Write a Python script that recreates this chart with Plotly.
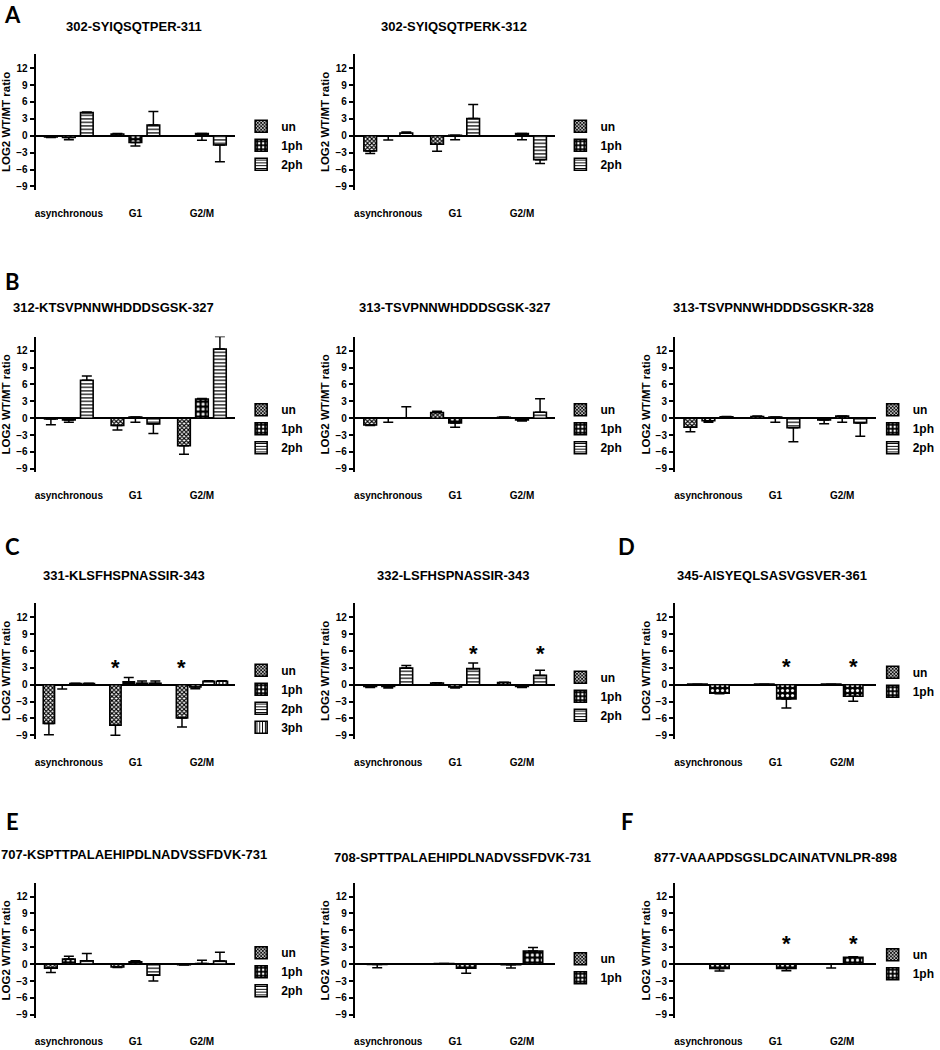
import plotly.graph_objects as go

W, H = 940, 1050
groups = ["asynchronous", "G1", "G2/M"]

# ---------------- data: bar values and signed error extents (+ up / - down) ----------------
a1_title = "302-SYIQSQTPER-311"
a1_un, a1_un_err = [-0.2, 0.3, -0.1], [-0.1, 0.1, 0.0]
a1_1ph, a1_1ph_err = [-0.3, -1.2, 0.4], [-0.4, -0.6, -1.2]
a1_2ph, a1_2ph_err = [4.1, 1.9, -1.65], [0.1, 2.4, -2.95]

a2_title = "302-SYIQSQTPERK-312"
a2_un, a2_un_err = [-2.7, -1.5, 0.0], [-0.45, -1.25, 0.0]
a2_1ph, a2_1ph_err = [-0.05, 0.1, 0.4], [-0.7, -0.8, -1.1]
a2_2ph, a2_2ph_err = [0.5, 3.05, -4.25], [0.15, 2.5, -0.7]

b1_title = "312-KTSVPNNWHDDDSGSK-327"
b1_un, b1_un_err = [-0.15, -1.3, -4.9], [-1.0, -0.8, -1.5]
b1_1ph, b1_1ph_err = [-0.3, 0.2, 3.4], [-0.4, -0.9, 0.1]
b1_2ph, b1_2ph_err = [6.75, -1.0, 12.3], [0.75, -1.7, 2.2]
b1_stars = [("G2/M", "2ph", 16.0)]

b2_title = "313-TSVPNNWHDDDSGSK-327"
b2_un, b2_un_err = [-1.2, 1.0, 0.15], [-0.1, 0.25, 0.05]
b2_1ph, b2_1ph_err = [0.05, -0.85, -0.3], [-0.75, -0.75, -0.2]
b2_2ph, b2_2ph_err = [0.05, 0.0, 1.05], [2.0, 0.0, 2.4]

b3_title = "313-TSVPNNWHDDDSGSKR-328"
b3_un, b3_un_err = [-1.6, 0.3, -0.3], [-0.8, 0.1, -0.7]
b3_1ph, b3_1ph_err = [-0.45, 0.2, 0.4], [-0.25, -0.9, -1.1]
b3_2ph, b3_2ph_err = [0.25, -1.7, -0.85], [0.05, -2.5, -2.35]

c1_title = "331-KLSFHSPNASSIR-343"
c1_un, c1_un_err = [-6.9, -7.2, -5.9], [-2.0, -1.8, -1.6]
c1_1ph, c1_1ph_err = [-0.05, 0.5, -0.4], [-0.7, 0.8, -0.3]
c1_2ph, c1_2ph_err = [0.2, 0.25, 0.6], [0.05, 0.4, 0.1]
c1_3ph, c1_3ph_err = [0.2, 0.25, 0.6], [0.05, 0.4, 0.1]
c1_stars = [("G1", "un", 3.8), ("G2/M", "un", 3.8)]

c2_title = "332-LSFHSPNASSIR-343"
c2_un, c2_un_err = [-0.3, 0.3, 0.4], [-0.2, 0.05, 0.05]
c2_1ph, c2_1ph_err = [-0.3, -0.4, -0.3], [-0.3, -0.2, -0.2]
c2_2ph, c2_2ph_err = [2.95, 2.85, 1.65], [0.45, 1.0, 0.9]
c2_stars = [("G1", "2ph", 6.2), ("G2/M", "2ph", 6.2)]

d_title = "345-AISYEQLSASVGSVER-361"
d_un, d_un_err = [0.1, 0.1, 0.1], [0.0, 0.0, 0.0]
d_1ph, d_1ph_err = [-1.5, -2.55, -2.05], [-0.1, -1.6, -0.9]
d_stars = [("G1", "1ph", 4.0), ("G2/M", "1ph", 4.0)]

e1_title = "707-KSPTTPALAEHIPDLNADVSSFDVK-731"
e1_un, e1_un_err = [-0.7, -0.5, -0.1], [-0.8, -0.1, -0.05]
e1_1ph, e1_1ph_err = [0.9, 0.4, 0.1], [0.5, 0.2, 0.6]
e1_2ph, e1_2ph_err = [0.6, -1.95, 0.55], [1.3, -1.05, 1.55]

e2_title = "708-SPTTPALAEHIPDLNADVSSFDVK-731"
e2_un, e2_un_err = [-0.05, 0.1, -0.1], [-0.6, 0.0, -0.6]
e2_1ph, e2_1ph_err = [0.0, -0.7, 2.35], [0.0, -0.9, 0.6]

f_title = "877-VAAAPDSGSLDCAINATVNLPR-898"
f_un, f_un_err = [0.05, 0.05, 0.0], [0.0, 0.0, -0.7]
f_1ph, f_1ph_err = [-0.75, -0.75, 1.2], [-0.45, -0.4, 0.1]
f_stars = [("G1", "1ph", 4.3), ("G2/M", "1ph", 4.3)]

y_ticks = [-9, -6, -3, 0, 3, 6, 9, 12]
y_title = "LOG2 WT/MT ratio"

# ---------------- chart definitions (layout only) ----------------
charts = [
    dict(title=a1_title, col=1, row="A", tpos=(135, 27), lg=-10,
         series=[("un", a1_un, a1_un_err), ("1ph", a1_1ph, a1_1ph_err), ("2ph", a1_2ph, a1_2ph_err)], stars=[]),
    dict(title=a2_title, col=2, row="A", tpos=(458, 27), lg=-10,
         series=[("un", a2_un, a2_un_err), ("1ph", a2_1ph, a2_1ph_err), ("2ph", a2_2ph, a2_2ph_err)], stars=[]),
    dict(title=b1_title, col=1, row="B", tpos=(114, 308), lg=-9,
         series=[("un", b1_un, b1_un_err), ("1ph", b1_1ph, b1_1ph_err), ("2ph", b1_2ph, b1_2ph_err)], stars=b1_stars),
    dict(title=b2_title, col=2, row="B", tpos=(459, 308), lg=-9,
         series=[("un", b2_un, b2_un_err), ("1ph", b2_1ph, b2_1ph_err), ("2ph", b2_2ph, b2_2ph_err)], stars=[]),
    dict(title=b3_title, col=3, row="B", tpos=(782, 308), lg=-9,
         series=[("un", b3_un, b3_un_err), ("1ph", b3_1ph, b3_1ph_err), ("2ph", b3_2ph, b3_2ph_err)], stars=[]),
    dict(title=c1_title, col=1, row="C", tpos=(124, 577), lg=-15,
         series=[("un", c1_un, c1_un_err), ("1ph", c1_1ph, c1_1ph_err), ("2ph", c1_2ph, c1_2ph_err),
                 ("3ph", c1_3ph, c1_3ph_err)], stars=c1_stars),
    dict(title=c2_title, col=2, row="C", tpos=(457, 577), lg=-8,
         series=[("un", c2_un, c2_un_err), ("1ph", c2_1ph, c2_1ph_err), ("2ph", c2_2ph, c2_2ph_err)], stars=c2_stars),
    dict(title=d_title, col=3, row="C", tpos=(780, 577), lg=-13,
         series=[("un", d_un, d_un_err), ("1ph", d_1ph, d_1ph_err)], stars=d_stars),
    dict(title=e1_title, col=1, row="E", tpos=(135, 856), lg=-12,
         series=[("un", e1_un, e1_un_err), ("1ph", e1_1ph, e1_1ph_err), ("2ph", e1_2ph, e1_2ph_err)], stars=[]),
    dict(title=e2_title, col=2, row="E", tpos=(467, 859), lg=-6,
         series=[("un", e2_un, e2_un_err), ("1ph", e2_1ph, e2_1ph_err)], stars=[]),
    dict(title=f_title, col=3, row="E", tpos=(784, 859), lg=-10,
         series=[("un", f_un, f_un_err), ("1ph", f_1ph, f_1ph_err)], stars=f_stars),
]

col_x = {1: (35, 237), 2: (358, 561), 3: (682, 885)}
row_zero = {"A": 136, "B": 419, "C": 686, "E": 966}
YMIN, YMAX = -9.6, 14.5
UNIT = 5.64
legend_x = {1: 243, 2: 566, 3: 882}

FONT = "Liberation Sans, Arial, sans-serif"
patterns = {
    "un": dict(shape="x", size=3, solidity=0.6, fgcolor="black", bgcolor="white", fillmode="replace"),
    "1ph": dict(shape=".", size=5, solidity=0.3, fgcolor="white", bgcolor="black", fillmode="replace"),
    "2ph": dict(shape="-", size=3.5, solidity=0.35, fgcolor="black", bgcolor="white", fillmode="replace"),
    "3ph": dict(shape="|", size=3.5, solidity=0.35, fgcolor="black", bgcolor="white", fillmode="replace"),
}
# bar slot geometry per number of series: (slot spacing, bar width) in category units
geom = {2: (0.33, 0.29), 3: (0.27, 0.19), 4: (0.2, 0.17)}

fig = go.Figure()
annotations = []
layout = dict(width=W, height=H, margin=dict(l=0, r=0, t=0, b=0),
              paper_bgcolor="white", plot_bgcolor="white", barmode="overlay",
              font=dict(family=FONT, color="black"), showlegend=True)

def px_x(p):
    return p / W

def px_y(p):
    return 1 - p / H

for i, ch in enumerate(charts, start=1):
    xs = "" if i == 1 else str(i)
    xa, ya = "x" + xs, "y" + xs
    lg = "legend" + xs
    n = len(ch["series"])
    slot, bw = geom[n]
    x0, x1 = col_x[ch["col"]]
    z = row_zero[ch["row"]]
    top = z - YMAX * UNIT
    bot = z - YMIN * UNIT
    for k, (name, vals, errs) in enumerate(ch["series"]):
        center = (k - (n - 1) / 2) * slot
        up = [e if e > 0 else 0 for e in errs]
        dn = [-e if e < 0 else 0 for e in errs]
        pat = patterns[name]
        fig.add_trace(go.Bar(
            x=list(range(len(groups))), y=vals, name=name, xaxis=xa, yaxis=ya, legend=lg,
            width=bw, offset=center - bw / 2,
            marker=dict(color=pat["bgcolor"], line=dict(color="black", width=1.6), pattern=pat),
            error_y=dict(type="data", symmetric=False, array=up, arrayminus=dn,
                         color="black", thickness=1.5, width=5),
        ))
    layout["xaxis" + xs] = dict(domain=[px_x(x0), px_x(x1)], anchor=ya, range=[-0.5, 2.5],
                                tickvals=list(range(len(groups))), ticktext=groups,
                                showline=False, ticks="", showgrid=False, zeroline=False,
                                tickfont=dict(size=10, family=FONT, weight="bold"),
                                ticklabelstandoff=16)
    layout["yaxis" + xs] = dict(domain=[px_y(bot), px_y(top)], anchor=xa, range=[YMIN, YMAX],
                                tickvals=y_ticks, showline=True, linecolor="black", linewidth=2,
                                ticks="outside", ticklen=4, tickwidth=1.5, tickcolor="black",
                                showgrid=False, zeroline=True, zerolinecolor="black", zerolinewidth=2,
                                tickfont=dict(size=10, family=FONT, weight="bold"),
                                title=dict(text=y_title, standoff=3,
                                           font=dict(size=11.5, family=FONT, weight="bold")))
    layout[lg] = dict(x=px_x(legend_x[ch["col"]]), xanchor="left",
                      y=px_y(z + ch["lg"] - 14), yanchor="top", bgcolor="rgba(0,0,0,0)",
                      font=dict(size=12, family=FONT, weight="bold"),
                      itemwidth=30, tracegroupgap=0)
    # title
    cx, cy = ch["tpos"]
    annotations.append(dict(text=ch["title"], x=px_x(cx), y=px_y(cy), xref="paper", yref="paper",
                            showarrow=False, xanchor="center", yanchor="middle",
                            font=dict(size=13, family=FONT, weight="bold")))
    # stars
    names = [s[0] for s in ch["series"]]
    for grp, ser, yv in ch["stars"]:
        k = names.index(ser)
        center = (k - (n - 1) / 2) * slot
        annotations.append(dict(text="*", x=groups.index(grp) + center, y=yv, xref=xa, yref=ya,
                                showarrow=False, yshift=-4,
                                font=dict(size=22, family=FONT, weight="bold")))

# panel letters
letters = [("A", 12, 15), ("B", 12, 282), ("C", 12, 548), ("D", 633, 548), ("E", 12, 823), ("F", 633, 823)]
for t, lx, ly in letters:
    annotations.append(dict(text=t, x=px_x(lx), y=px_y(ly), xref="paper", yref="paper",
                            showarrow=False, xanchor="center", yanchor="middle",
                            font=dict(size=22, family="Lato, " + FONT, weight="bold")))

layout["annotations"] = annotations
fig.update_layout(**layout)
fig.write_html("out.html", config={"displayModeBar": False},
               post_script="document.body.style.margin='0';document.body.style.padding='0';"
                           "document.body.style.overflow='hidden';")
